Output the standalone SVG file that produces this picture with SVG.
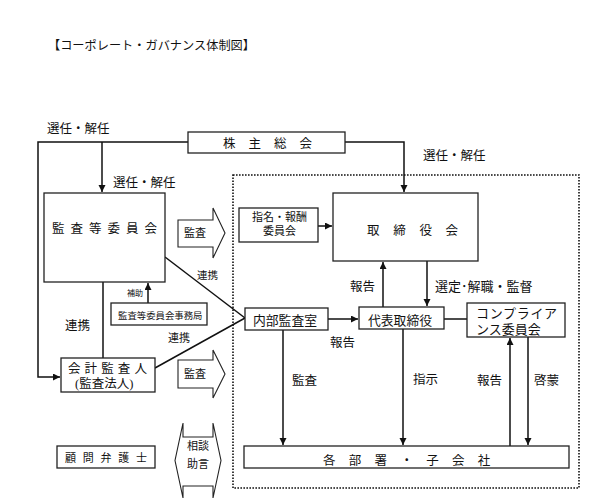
<svg xmlns="http://www.w3.org/2000/svg" width="613" height="503" viewBox="0 0 613 503">
<defs>
<style>
text{font-family:"Liberation Serif","Noto Sans CJK JP",serif;fill:#111;font-size:12.5px}
.box{fill:#fff;stroke:#222;stroke-width:1.3}
.ln{fill:none;stroke:#111;stroke-width:1.5}
.blk{fill:#fff;stroke:#222;stroke-width:1.1}
.dot{fill:none;stroke:#111;stroke-width:1.6;stroke-dasharray:1.6 1.4}
.s{font-size:11px}
.xs{font-size:9.4px}
</style>
<marker id="ah" markerWidth="8" markerHeight="8" refX="7" refY="3.5" orient="auto" markerUnits="userSpaceOnUse">
<path d="M0,0 L7,3.5 L0,7 z" fill="#111"/>
</marker>
</defs>
<rect width="613" height="503" fill="#fff"/>
<text x="48" y="49.5" style="font-size:12.2px">【コーポレート・ガバナンス体制図】</text>

<rect class="dot" x="233" y="175" width="346" height="313"/>

<g id="connectors">
<polyline class="ln" points="188,142 38,142 38,377 60,377" marker-end="url(#ah)"/>
<line class="ln" x1="102" y1="142" x2="102" y2="192" marker-end="url(#ah)"/>
<polyline class="ln" points="345,142 404,142 404,192" marker-end="url(#ah)"/>
<line class="ln" x1="103" y1="282" x2="103" y2="358"/>
<line class="ln" x1="148" y1="303" x2="148" y2="283" marker-end="url(#ah)"/>
<line class="ln" x1="165" y1="257" x2="245" y2="318"/>
<line class="ln" x1="155" y1="368" x2="245" y2="318"/>
<line class="ln" x1="318" y1="226" x2="332" y2="226" marker-end="url(#ah)"/>
<line class="ln" x1="383" y1="307" x2="383" y2="262" marker-end="url(#ah)"/>
<line class="ln" x1="427" y1="261" x2="427" y2="306" marker-end="url(#ah)"/>
<line class="ln" x1="328" y1="319" x2="358" y2="319" marker-end="url(#ah)"/>
<line class="ln" x1="444" y1="319" x2="467" y2="319"/>
<line class="ln" x1="283" y1="330" x2="283" y2="445" marker-end="url(#ah)"/>
<line class="ln" x1="403" y1="329" x2="403" y2="445" marker-end="url(#ah)"/>
<line class="ln" x1="510" y1="446" x2="510" y2="338" marker-end="url(#ah)"/>
<line class="ln" x1="528" y1="337" x2="528" y2="445" marker-end="url(#ah)"/>
<text x="47" y="132.5">選任・解任</text>
<text x="113" y="186.5">選任・解任</text>
<text x="423" y="159.5">選任・解任</text>
<text x="197" y="278.5" style="font-size:10.5px">連携</text>
<text x="350" y="290.5">報告</text>
<text x="435" y="290.5" style="font-size:13px">選定･解職・監督</text>
<text x="127" y="296" style="font-size:8px">補助</text>
<text x="65" y="329.5">連携</text>
<text x="168" y="342" class="s">連携</text>
<text x="330" y="346.5">報告</text>
<text x="292" y="384.5">監査</text>
<text x="413" y="383.5">指示</text>
<text x="477" y="384.5">報告</text>
<text x="534" y="384.5">啓蒙</text>
</g>

<g id="kabunushi">
<rect class="box" x="188" y="132" width="157" height="21"/>
<text x="223" y="147.5" letter-spacing="13">株主総会</text>
</g>
<g id="kansa-iinkai">
<rect class="box" x="44" y="193" width="121" height="89"/>
<text x="52" y="232.5" letter-spacing="6">監査等委員会</text>
</g>
<g id="kansa-arrow1">
<polygon class="blk" points="178,220 213,220 213,208 225,233 213,258 213,247 178,247"/>
<text x="195" y="237" class="s" text-anchor="middle">監査</text>
</g>
<g id="shimei">
<rect class="box" x="239" y="208" width="79" height="34"/>
<text x="252" y="221" class="s">指名・報酬</text>
<text x="263" y="235" class="s">委員会</text>
</g>
<g id="torishimariyakukai">
<rect class="box" x="333" y="193" width="145" height="68"/>
<text x="367" y="234.5" letter-spacing="13.7">取締役会</text>
</g>
<g id="jimukyoku">
<rect class="box" x="111" y="303" width="96" height="22"/>
<text x="118" y="318.5" class="xs">監査等委員会事務局</text>
</g>
<g id="naibu">
<rect class="box" x="245" y="308" width="83" height="22"/>
<text x="253" y="324.5" style="font-size:12.8px">内部監査室</text>
</g>
<g id="daihyo">
<rect class="box" x="359" y="307" width="85" height="22"/>
<text x="368" y="324.5" style="font-size:12.8px">代表取締役</text>
</g>
<g id="compliance">
<rect class="box" x="467" y="303" width="98" height="34"/>
<text x="476" y="317.5" style="font-size:13px" letter-spacing="0.7">コンプライア</text>
<text x="476" y="333.5" style="font-size:13px">ンス委員会</text>
</g>
<g id="kaikei">
<rect class="box" x="61" y="358" width="94" height="34"/>
<text x="68" y="372.5" letter-spacing="4.1">会計監査人</text>
<text x="75" y="387.5">(監査法人)</text>
</g>
<g id="kansa-arrow2">
<polygon class="blk" points="178,360 213,360 213,350 225,374 213,398 213,388 178,388"/>
<text x="195" y="378" class="s" text-anchor="middle">監査</text>
</g>
<g id="komon">
<rect class="box" x="57" y="446" width="98" height="22"/>
<text x="65" y="462" class="s" letter-spacing="6.75">顧問弁護士</text>
</g>
<g id="sodan-arrow">
<polygon class="blk" points="183,437 183,423 175,460.5 183,498 183,486 213,486 213,498 221,460.5 213,423 213,437"/>
<text x="198" y="450" class="s" text-anchor="middle">相談</text>
<text x="198" y="468" class="s" text-anchor="middle">助言</text>
</g>
<g id="kakubusho">
<rect class="box" x="244" y="446" width="325" height="22"/>
<text x="323" y="464.5" letter-spacing="13.3">各部署・子会社</text>
</g>
</svg>
